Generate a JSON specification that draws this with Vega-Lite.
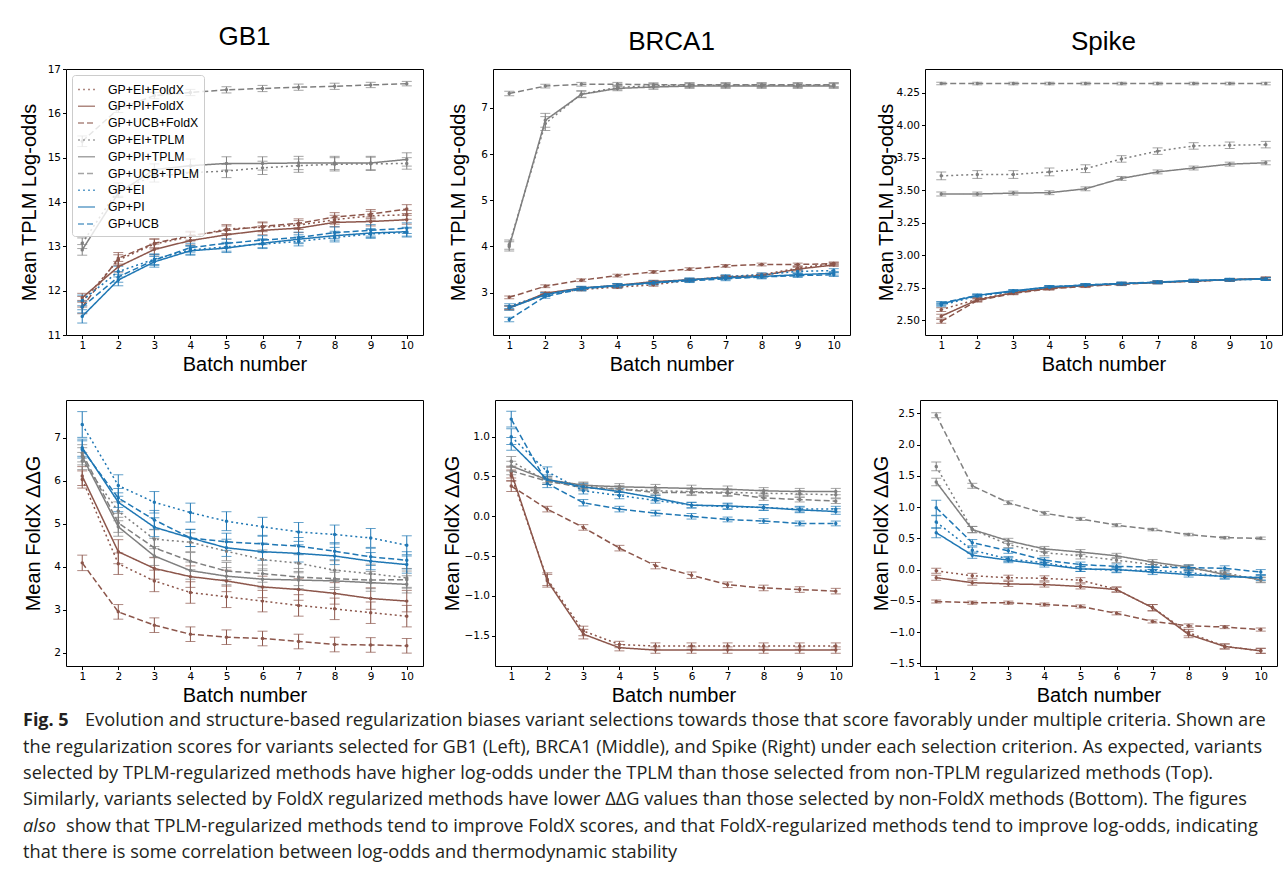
{
"$schema":"https://vega.github.io/schema/vega-lite/v6.json",
"padding":{"left":18,"top":23,"right":0,"bottom":0},
"background":"white",
"config":{
 "view":{"stroke":"#000","strokeWidth":1},
 "axis":{"domain":false,"grid":false,"tickColor":"#000","tickSize":3.5,"labelFont":"DejaVu Sans","labelFontSize":10.5,"labelColor":"#000","labelPadding":2,"titleFont":"Liberation Sans","titleFontSize":20,"titleFontWeight":"normal","titleColor":"#000"},
 "axisX":{"titlePadding":3},
 "title":{"font":"Liberation Sans","fontSize":26,"fontWeight":"normal","color":"#000","offset":14}
},
"datasets":{
"pts":[
{"p":"GT","s":"GP+EI+FoldX","b":1,"v":11.75,"e":0.12},{"p":"GT","s":"GP+EI+FoldX","b":2,"v":12.69,"e":0.12},{"p":"GT","s":"GP+EI+FoldX","b":3,"v":13.05,"e":0.11},{"p":"GT","s":"GP+EI+FoldX","b":4,"v":13.22,"e":0.1},{"p":"GT","s":"GP+EI+FoldX","b":5,"v":13.39,"e":0.1},{"p":"GT","s":"GP+EI+FoldX","b":6,"v":13.43,"e":0.1},{"p":"GT","s":"GP+EI+FoldX","b":7,"v":13.48,"e":0.1},{"p":"GT","s":"GP+EI+FoldX","b":8,"v":13.6,"e":0.1},{"p":"GT","s":"GP+EI+FoldX","b":9,"v":13.69,"e":0.1},{"p":"GT","s":"GP+EI+FoldX","b":10,"v":13.71,"e":0.1},
{"p":"GT","s":"GP+PI+FoldX","b":1,"v":11.84,"e":0.1},{"p":"GT","s":"GP+PI+FoldX","b":2,"v":12.54,"e":0.12},{"p":"GT","s":"GP+PI+FoldX","b":3,"v":12.93,"e":0.12},{"p":"GT","s":"GP+PI+FoldX","b":4,"v":13.13,"e":0.1},{"p":"GT","s":"GP+PI+FoldX","b":5,"v":13.26,"e":0.1},{"p":"GT","s":"GP+PI+FoldX","b":6,"v":13.36,"e":0.1},{"p":"GT","s":"GP+PI+FoldX","b":7,"v":13.41,"e":0.1},{"p":"GT","s":"GP+PI+FoldX","b":8,"v":13.54,"e":0.1},{"p":"GT","s":"GP+PI+FoldX","b":9,"v":13.56,"e":0.1},{"p":"GT","s":"GP+PI+FoldX","b":10,"v":13.6,"e":0.1},
{"p":"GT","s":"GP+UCB+FoldX","b":1,"v":11.63,"e":0.15},{"p":"GT","s":"GP+UCB+FoldX","b":2,"v":12.73,"e":0.13},{"p":"GT","s":"GP+UCB+FoldX","b":3,"v":13.07,"e":0.1},{"p":"GT","s":"GP+UCB+FoldX","b":4,"v":13.24,"e":0.1},{"p":"GT","s":"GP+UCB+FoldX","b":5,"v":13.36,"e":0.1},{"p":"GT","s":"GP+UCB+FoldX","b":6,"v":13.45,"e":0.1},{"p":"GT","s":"GP+UCB+FoldX","b":7,"v":13.52,"e":0.1},{"p":"GT","s":"GP+UCB+FoldX","b":8,"v":13.66,"e":0.1},{"p":"GT","s":"GP+UCB+FoldX","b":9,"v":13.73,"e":0.1},{"p":"GT","s":"GP+UCB+FoldX","b":10,"v":13.84,"e":0.1},
{"p":"GT","s":"GP+EI+TPLM","b":1,"v":13.07,"e":0.12},{"p":"GT","s":"GP+EI+TPLM","b":2,"v":14.28,"e":0.15},{"p":"GT","s":"GP+EI+TPLM","b":3,"v":14.58,"e":0.13},{"p":"GT","s":"GP+EI+TPLM","b":4,"v":14.66,"e":0.15},{"p":"GT","s":"GP+EI+TPLM","b":5,"v":14.7,"e":0.15},{"p":"GT","s":"GP+EI+TPLM","b":6,"v":14.77,"e":0.15},{"p":"GT","s":"GP+EI+TPLM","b":7,"v":14.82,"e":0.15},{"p":"GT","s":"GP+EI+TPLM","b":8,"v":14.85,"e":0.15},{"p":"GT","s":"GP+EI+TPLM","b":9,"v":14.86,"e":0.15},{"p":"GT","s":"GP+EI+TPLM","b":10,"v":14.87,"e":0.13},
{"p":"GT","s":"GP+PI+TPLM","b":1,"v":12.92,"e":0.12},{"p":"GT","s":"GP+PI+TPLM","b":2,"v":14.2,"e":0.1},{"p":"GT","s":"GP+PI+TPLM","b":3,"v":14.73,"e":0.13},{"p":"GT","s":"GP+PI+TPLM","b":4,"v":14.82,"e":0.15},{"p":"GT","s":"GP+PI+TPLM","b":5,"v":14.87,"e":0.15},{"p":"GT","s":"GP+PI+TPLM","b":6,"v":14.87,"e":0.15},{"p":"GT","s":"GP+PI+TPLM","b":7,"v":14.88,"e":0.15},{"p":"GT","s":"GP+PI+TPLM","b":8,"v":14.88,"e":0.15},{"p":"GT","s":"GP+PI+TPLM","b":9,"v":14.88,"e":0.15},{"p":"GT","s":"GP+PI+TPLM","b":10,"v":14.96,"e":0.15},
{"p":"GT","s":"GP+UCB+TPLM","b":1,"v":15.37,"e":0.12},{"p":"GT","s":"GP+UCB+TPLM","b":2,"v":16.1,"e":0.08},{"p":"GT","s":"GP+UCB+TPLM","b":3,"v":16.4,"e":0.07},{"p":"GT","s":"GP+UCB+TPLM","b":4,"v":16.47,"e":0.07},{"p":"GT","s":"GP+UCB+TPLM","b":5,"v":16.53,"e":0.07},{"p":"GT","s":"GP+UCB+TPLM","b":6,"v":16.56,"e":0.07},{"p":"GT","s":"GP+UCB+TPLM","b":7,"v":16.59,"e":0.07},{"p":"GT","s":"GP+UCB+TPLM","b":8,"v":16.61,"e":0.07},{"p":"GT","s":"GP+UCB+TPLM","b":9,"v":16.64,"e":0.06},{"p":"GT","s":"GP+UCB+TPLM","b":10,"v":16.67,"e":0.05},
{"p":"GT","s":"GP+EI","b":1,"v":11.78,"e":0.12},{"p":"GT","s":"GP+EI","b":2,"v":12.43,"e":0.12},{"p":"GT","s":"GP+EI","b":3,"v":12.71,"e":0.12},{"p":"GT","s":"GP+EI","b":4,"v":12.92,"e":0.1},{"p":"GT","s":"GP+EI","b":5,"v":12.99,"e":0.1},{"p":"GT","s":"GP+EI","b":6,"v":13.05,"e":0.1},{"p":"GT","s":"GP+EI","b":7,"v":13.11,"e":0.1},{"p":"GT","s":"GP+EI","b":8,"v":13.2,"e":0.1},{"p":"GT","s":"GP+EI","b":9,"v":13.28,"e":0.1},{"p":"GT","s":"GP+EI","b":10,"v":13.31,"e":0.1},
{"p":"GT","s":"GP+PI","b":1,"v":11.42,"e":0.15},{"p":"GT","s":"GP+PI","b":2,"v":12.24,"e":0.13},{"p":"GT","s":"GP+PI","b":3,"v":12.65,"e":0.12},{"p":"GT","s":"GP+PI","b":4,"v":12.9,"e":0.1},{"p":"GT","s":"GP+PI","b":5,"v":12.96,"e":0.1},{"p":"GT","s":"GP+PI","b":6,"v":13.07,"e":0.1},{"p":"GT","s":"GP+PI","b":7,"v":13.16,"e":0.1},{"p":"GT","s":"GP+PI","b":8,"v":13.24,"e":0.1},{"p":"GT","s":"GP+PI","b":9,"v":13.3,"e":0.1},{"p":"GT","s":"GP+PI","b":10,"v":13.33,"e":0.1},
{"p":"GT","s":"GP+UCB","b":1,"v":11.63,"e":0.13},{"p":"GT","s":"GP+UCB","b":2,"v":12.31,"e":0.12},{"p":"GT","s":"GP+UCB","b":3,"v":12.69,"e":0.12},{"p":"GT","s":"GP+UCB","b":4,"v":12.97,"e":0.1},{"p":"GT","s":"GP+UCB","b":5,"v":13.07,"e":0.1},{"p":"GT","s":"GP+UCB","b":6,"v":13.14,"e":0.1},{"p":"GT","s":"GP+UCB","b":7,"v":13.2,"e":0.12},{"p":"GT","s":"GP+UCB","b":8,"v":13.31,"e":0.13},{"p":"GT","s":"GP+UCB","b":9,"v":13.36,"e":0.13},{"p":"GT","s":"GP+UCB","b":10,"v":13.41,"e":0.12},

{"p":"BT","s":"GP+EI+FoldX","b":1,"v":2.67,"e":0.04},{"p":"BT","s":"GP+EI+FoldX","b":2,"v":2.96,"e":0.03},{"p":"BT","s":"GP+EI+FoldX","b":3,"v":3.07,"e":0.03},{"p":"BT","s":"GP+EI+FoldX","b":4,"v":3.12,"e":0.03},{"p":"BT","s":"GP+EI+FoldX","b":5,"v":3.17,"e":0.03},{"p":"BT","s":"GP+EI+FoldX","b":6,"v":3.27,"e":0.03},{"p":"BT","s":"GP+EI+FoldX","b":7,"v":3.34,"e":0.03},{"p":"BT","s":"GP+EI+FoldX","b":8,"v":3.39,"e":0.03},{"p":"BT","s":"GP+EI+FoldX","b":9,"v":3.53,"e":0.04},{"p":"BT","s":"GP+EI+FoldX","b":10,"v":3.63,"e":0.03},
{"p":"BT","s":"GP+PI+FoldX","b":1,"v":2.67,"e":0.04},{"p":"BT","s":"GP+PI+FoldX","b":2,"v":2.99,"e":0.03},{"p":"BT","s":"GP+PI+FoldX","b":3,"v":3.1,"e":0.03},{"p":"BT","s":"GP+PI+FoldX","b":4,"v":3.16,"e":0.03},{"p":"BT","s":"GP+PI+FoldX","b":5,"v":3.24,"e":0.03},{"p":"BT","s":"GP+PI+FoldX","b":6,"v":3.28,"e":0.03},{"p":"BT","s":"GP+PI+FoldX","b":7,"v":3.34,"e":0.03},{"p":"BT","s":"GP+PI+FoldX","b":8,"v":3.37,"e":0.03},{"p":"BT","s":"GP+PI+FoldX","b":9,"v":3.51,"e":0.04},{"p":"BT","s":"GP+PI+FoldX","b":10,"v":3.6,"e":0.03},
{"p":"BT","s":"GP+UCB+FoldX","b":1,"v":2.9,"e":0.03},{"p":"BT","s":"GP+UCB+FoldX","b":2,"v":3.14,"e":0.03},{"p":"BT","s":"GP+UCB+FoldX","b":3,"v":3.27,"e":0.03},{"p":"BT","s":"GP+UCB+FoldX","b":4,"v":3.37,"e":0.03},{"p":"BT","s":"GP+UCB+FoldX","b":5,"v":3.45,"e":0.03},{"p":"BT","s":"GP+UCB+FoldX","b":6,"v":3.51,"e":0.03},{"p":"BT","s":"GP+UCB+FoldX","b":7,"v":3.58,"e":0.03},{"p":"BT","s":"GP+UCB+FoldX","b":8,"v":3.61,"e":0.03},{"p":"BT","s":"GP+UCB+FoldX","b":9,"v":3.61,"e":0.03},{"p":"BT","s":"GP+UCB+FoldX","b":10,"v":3.63,"e":0.03},
{"p":"BT","s":"GP+EI+TPLM","b":1,"v":4.04,"e":0.1},{"p":"BT","s":"GP+EI+TPLM","b":2,"v":6.66,"e":0.15},{"p":"BT","s":"GP+EI+TPLM","b":3,"v":7.3,"e":0.07},{"p":"BT","s":"GP+EI+TPLM","b":4,"v":7.44,"e":0.05},{"p":"BT","s":"GP+EI+TPLM","b":5,"v":7.48,"e":0.05},{"p":"BT","s":"GP+EI+TPLM","b":6,"v":7.49,"e":0.05},{"p":"BT","s":"GP+EI+TPLM","b":7,"v":7.49,"e":0.05},{"p":"BT","s":"GP+EI+TPLM","b":8,"v":7.49,"e":0.05},{"p":"BT","s":"GP+EI+TPLM","b":9,"v":7.49,"e":0.05},{"p":"BT","s":"GP+EI+TPLM","b":10,"v":7.49,"e":0.05},
{"p":"BT","s":"GP+PI+TPLM","b":1,"v":4.0,"e":0.1},{"p":"BT","s":"GP+PI+TPLM","b":2,"v":6.73,"e":0.15},{"p":"BT","s":"GP+PI+TPLM","b":3,"v":7.29,"e":0.07},{"p":"BT","s":"GP+PI+TPLM","b":4,"v":7.42,"e":0.05},{"p":"BT","s":"GP+PI+TPLM","b":5,"v":7.45,"e":0.05},{"p":"BT","s":"GP+PI+TPLM","b":6,"v":7.47,"e":0.05},{"p":"BT","s":"GP+PI+TPLM","b":7,"v":7.47,"e":0.05},{"p":"BT","s":"GP+PI+TPLM","b":8,"v":7.47,"e":0.05},{"p":"BT","s":"GP+PI+TPLM","b":9,"v":7.47,"e":0.05},{"p":"BT","s":"GP+PI+TPLM","b":10,"v":7.47,"e":0.05},
{"p":"BT","s":"GP+UCB+TPLM","b":1,"v":7.31,"e":0.05},{"p":"BT","s":"GP+UCB+TPLM","b":2,"v":7.47,"e":0.04},{"p":"BT","s":"GP+UCB+TPLM","b":3,"v":7.51,"e":0.04},{"p":"BT","s":"GP+UCB+TPLM","b":4,"v":7.51,"e":0.04},{"p":"BT","s":"GP+UCB+TPLM","b":5,"v":7.5,"e":0.04},{"p":"BT","s":"GP+UCB+TPLM","b":6,"v":7.5,"e":0.04},{"p":"BT","s":"GP+UCB+TPLM","b":7,"v":7.5,"e":0.04},{"p":"BT","s":"GP+UCB+TPLM","b":8,"v":7.5,"e":0.04},{"p":"BT","s":"GP+UCB+TPLM","b":9,"v":7.5,"e":0.04},{"p":"BT","s":"GP+UCB+TPLM","b":10,"v":7.5,"e":0.04},
{"p":"BT","s":"GP+EI","b":1,"v":2.71,"e":0.05},{"p":"BT","s":"GP+EI","b":2,"v":2.96,"e":0.04},{"p":"BT","s":"GP+EI","b":3,"v":3.09,"e":0.04},{"p":"BT","s":"GP+EI","b":4,"v":3.15,"e":0.04},{"p":"BT","s":"GP+EI","b":5,"v":3.21,"e":0.04},{"p":"BT","s":"GP+EI","b":6,"v":3.27,"e":0.04},{"p":"BT","s":"GP+EI","b":7,"v":3.35,"e":0.04},{"p":"BT","s":"GP+EI","b":8,"v":3.39,"e":0.04},{"p":"BT","s":"GP+EI","b":9,"v":3.46,"e":0.04},{"p":"BT","s":"GP+EI","b":10,"v":3.48,"e":0.04},
{"p":"BT","s":"GP+PI","b":1,"v":2.67,"e":0.05},{"p":"BT","s":"GP+PI","b":2,"v":2.96,"e":0.04},{"p":"BT","s":"GP+PI","b":3,"v":3.1,"e":0.04},{"p":"BT","s":"GP+PI","b":4,"v":3.16,"e":0.04},{"p":"BT","s":"GP+PI","b":5,"v":3.22,"e":0.04},{"p":"BT","s":"GP+PI","b":6,"v":3.28,"e":0.04},{"p":"BT","s":"GP+PI","b":7,"v":3.32,"e":0.04},{"p":"BT","s":"GP+PI","b":8,"v":3.35,"e":0.04},{"p":"BT","s":"GP+PI","b":9,"v":3.39,"e":0.04},{"p":"BT","s":"GP+PI","b":10,"v":3.42,"e":0.04},
{"p":"BT","s":"GP+UCB","b":1,"v":2.42,"e":0.05},{"p":"BT","s":"GP+UCB","b":2,"v":2.92,"e":0.04},{"p":"BT","s":"GP+UCB","b":3,"v":3.08,"e":0.04},{"p":"BT","s":"GP+UCB","b":4,"v":3.15,"e":0.04},{"p":"BT","s":"GP+UCB","b":5,"v":3.21,"e":0.04},{"p":"BT","s":"GP+UCB","b":6,"v":3.26,"e":0.04},{"p":"BT","s":"GP+UCB","b":7,"v":3.3,"e":0.04},{"p":"BT","s":"GP+UCB","b":8,"v":3.34,"e":0.04},{"p":"BT","s":"GP+UCB","b":9,"v":3.37,"e":0.04},{"p":"BT","s":"GP+UCB","b":10,"v":3.39,"e":0.04},

{"p":"ST","s":"GP+EI+FoldX","b":1,"v":2.58,"e":0.015},{"p":"ST","s":"GP+EI+FoldX","b":2,"v":2.66,"e":0.012},{"p":"ST","s":"GP+EI+FoldX","b":3,"v":2.71,"e":0.01},{"p":"ST","s":"GP+EI+FoldX","b":4,"v":2.745,"e":0.01},{"p":"ST","s":"GP+EI+FoldX","b":5,"v":2.765,"e":0.01},{"p":"ST","s":"GP+EI+FoldX","b":6,"v":2.78,"e":0.01},{"p":"ST","s":"GP+EI+FoldX","b":7,"v":2.79,"e":0.01},{"p":"ST","s":"GP+EI+FoldX","b":8,"v":2.8,"e":0.01},{"p":"ST","s":"GP+EI+FoldX","b":9,"v":2.81,"e":0.01},{"p":"ST","s":"GP+EI+FoldX","b":10,"v":2.82,"e":0.01},
{"p":"ST","s":"GP+PI+FoldX","b":1,"v":2.53,"e":0.015},{"p":"ST","s":"GP+PI+FoldX","b":2,"v":2.655,"e":0.012},{"p":"ST","s":"GP+PI+FoldX","b":3,"v":2.71,"e":0.01},{"p":"ST","s":"GP+PI+FoldX","b":4,"v":2.745,"e":0.01},{"p":"ST","s":"GP+PI+FoldX","b":5,"v":2.765,"e":0.01},{"p":"ST","s":"GP+PI+FoldX","b":6,"v":2.78,"e":0.01},{"p":"ST","s":"GP+PI+FoldX","b":7,"v":2.79,"e":0.01},{"p":"ST","s":"GP+PI+FoldX","b":8,"v":2.8,"e":0.01},{"p":"ST","s":"GP+PI+FoldX","b":9,"v":2.81,"e":0.01},{"p":"ST","s":"GP+PI+FoldX","b":10,"v":2.82,"e":0.01},
{"p":"ST","s":"GP+UCB+FoldX","b":1,"v":2.49,"e":0.015},{"p":"ST","s":"GP+UCB+FoldX","b":2,"v":2.65,"e":0.012},{"p":"ST","s":"GP+UCB+FoldX","b":3,"v":2.705,"e":0.01},{"p":"ST","s":"GP+UCB+FoldX","b":4,"v":2.74,"e":0.01},{"p":"ST","s":"GP+UCB+FoldX","b":5,"v":2.76,"e":0.01},{"p":"ST","s":"GP+UCB+FoldX","b":6,"v":2.775,"e":0.01},{"p":"ST","s":"GP+UCB+FoldX","b":7,"v":2.79,"e":0.01},{"p":"ST","s":"GP+UCB+FoldX","b":8,"v":2.8,"e":0.01},{"p":"ST","s":"GP+UCB+FoldX","b":9,"v":2.81,"e":0.01},{"p":"ST","s":"GP+UCB+FoldX","b":10,"v":2.82,"e":0.01},
{"p":"ST","s":"GP+EI+TPLM","b":1,"v":3.61,"e":0.03},{"p":"ST","s":"GP+EI+TPLM","b":2,"v":3.62,"e":0.03},{"p":"ST","s":"GP+EI+TPLM","b":3,"v":3.62,"e":0.03},{"p":"ST","s":"GP+EI+TPLM","b":4,"v":3.64,"e":0.03},{"p":"ST","s":"GP+EI+TPLM","b":5,"v":3.665,"e":0.03},{"p":"ST","s":"GP+EI+TPLM","b":6,"v":3.74,"e":0.025},{"p":"ST","s":"GP+EI+TPLM","b":7,"v":3.8,"e":0.025},{"p":"ST","s":"GP+EI+TPLM","b":8,"v":3.84,"e":0.025},{"p":"ST","s":"GP+EI+TPLM","b":9,"v":3.845,"e":0.025},{"p":"ST","s":"GP+EI+TPLM","b":10,"v":3.85,"e":0.025},
{"p":"ST","s":"GP+PI+TPLM","b":1,"v":3.47,"e":0.015},{"p":"ST","s":"GP+PI+TPLM","b":2,"v":3.47,"e":0.015},{"p":"ST","s":"GP+PI+TPLM","b":3,"v":3.477,"e":0.015},{"p":"ST","s":"GP+PI+TPLM","b":4,"v":3.48,"e":0.015},{"p":"ST","s":"GP+PI+TPLM","b":5,"v":3.51,"e":0.015},{"p":"ST","s":"GP+PI+TPLM","b":6,"v":3.59,"e":0.015},{"p":"ST","s":"GP+PI+TPLM","b":7,"v":3.64,"e":0.015},{"p":"ST","s":"GP+PI+TPLM","b":8,"v":3.67,"e":0.015},{"p":"ST","s":"GP+PI+TPLM","b":9,"v":3.7,"e":0.015},{"p":"ST","s":"GP+PI+TPLM","b":10,"v":3.71,"e":0.015},
{"p":"ST","s":"GP+UCB+TPLM","b":1,"v":4.32,"e":0.01},{"p":"ST","s":"GP+UCB+TPLM","b":2,"v":4.32,"e":0.01},{"p":"ST","s":"GP+UCB+TPLM","b":3,"v":4.32,"e":0.01},{"p":"ST","s":"GP+UCB+TPLM","b":4,"v":4.32,"e":0.01},{"p":"ST","s":"GP+UCB+TPLM","b":5,"v":4.32,"e":0.01},{"p":"ST","s":"GP+UCB+TPLM","b":6,"v":4.32,"e":0.01},{"p":"ST","s":"GP+UCB+TPLM","b":7,"v":4.32,"e":0.01},{"p":"ST","s":"GP+UCB+TPLM","b":8,"v":4.32,"e":0.01},{"p":"ST","s":"GP+UCB+TPLM","b":9,"v":4.32,"e":0.01},{"p":"ST","s":"GP+UCB+TPLM","b":10,"v":4.32,"e":0.01},
{"p":"ST","s":"GP+EI","b":1,"v":2.615,"e":0.012},{"p":"ST","s":"GP+EI","b":2,"v":2.685,"e":0.01},{"p":"ST","s":"GP+EI","b":3,"v":2.72,"e":0.01},{"p":"ST","s":"GP+EI","b":4,"v":2.755,"e":0.01},{"p":"ST","s":"GP+EI","b":5,"v":2.77,"e":0.01},{"p":"ST","s":"GP+EI","b":6,"v":2.78,"e":0.01},{"p":"ST","s":"GP+EI","b":7,"v":2.79,"e":0.01},{"p":"ST","s":"GP+EI","b":8,"v":2.8,"e":0.01},{"p":"ST","s":"GP+EI","b":9,"v":2.81,"e":0.01},{"p":"ST","s":"GP+EI","b":10,"v":2.815,"e":0.01},
{"p":"ST","s":"GP+PI","b":1,"v":2.625,"e":0.012},{"p":"ST","s":"GP+PI","b":2,"v":2.69,"e":0.01},{"p":"ST","s":"GP+PI","b":3,"v":2.725,"e":0.01},{"p":"ST","s":"GP+PI","b":4,"v":2.755,"e":0.01},{"p":"ST","s":"GP+PI","b":5,"v":2.77,"e":0.01},{"p":"ST","s":"GP+PI","b":6,"v":2.78,"e":0.01},{"p":"ST","s":"GP+PI","b":7,"v":2.79,"e":0.01},{"p":"ST","s":"GP+PI","b":8,"v":2.805,"e":0.01},{"p":"ST","s":"GP+PI","b":9,"v":2.81,"e":0.01},{"p":"ST","s":"GP+PI","b":10,"v":2.815,"e":0.01},
{"p":"ST","s":"GP+UCB","b":1,"v":2.63,"e":0.012},{"p":"ST","s":"GP+UCB","b":2,"v":2.69,"e":0.01},{"p":"ST","s":"GP+UCB","b":3,"v":2.72,"e":0.01},{"p":"ST","s":"GP+UCB","b":4,"v":2.755,"e":0.01},{"p":"ST","s":"GP+UCB","b":5,"v":2.768,"e":0.01},{"p":"ST","s":"GP+UCB","b":6,"v":2.782,"e":0.01},{"p":"ST","s":"GP+UCB","b":7,"v":2.792,"e":0.01},{"p":"ST","s":"GP+UCB","b":8,"v":2.803,"e":0.01},{"p":"ST","s":"GP+UCB","b":9,"v":2.812,"e":0.01},{"p":"ST","s":"GP+UCB","b":10,"v":2.818,"e":0.01},

{"p":"GB","s":"GP+EI+FoldX","b":1,"v":6.03,"e":0.2},{"p":"GB","s":"GP+EI+FoldX","b":2,"v":4.07,"e":0.25},{"p":"GB","s":"GP+EI+FoldX","b":3,"v":3.67,"e":0.25},{"p":"GB","s":"GP+EI+FoldX","b":4,"v":3.4,"e":0.25},{"p":"GB","s":"GP+EI+FoldX","b":5,"v":3.3,"e":0.25},{"p":"GB","s":"GP+EI+FoldX","b":6,"v":3.2,"e":0.25},{"p":"GB","s":"GP+EI+FoldX","b":7,"v":3.1,"e":0.25},{"p":"GB","s":"GP+EI+FoldX","b":8,"v":3.02,"e":0.25},{"p":"GB","s":"GP+EI+FoldX","b":9,"v":2.93,"e":0.25},{"p":"GB","s":"GP+EI+FoldX","b":10,"v":2.85,"e":0.25},
{"p":"GB","s":"GP+PI+FoldX","b":1,"v":6.11,"e":0.22},{"p":"GB","s":"GP+PI+FoldX","b":2,"v":4.35,"e":0.28},{"p":"GB","s":"GP+PI+FoldX","b":3,"v":3.96,"e":0.25},{"p":"GB","s":"GP+PI+FoldX","b":4,"v":3.77,"e":0.25},{"p":"GB","s":"GP+PI+FoldX","b":5,"v":3.67,"e":0.25},{"p":"GB","s":"GP+PI+FoldX","b":6,"v":3.53,"e":0.25},{"p":"GB","s":"GP+PI+FoldX","b":7,"v":3.47,"e":0.25},{"p":"GB","s":"GP+PI+FoldX","b":8,"v":3.38,"e":0.25},{"p":"GB","s":"GP+PI+FoldX","b":9,"v":3.26,"e":0.25},{"p":"GB","s":"GP+PI+FoldX","b":10,"v":3.2,"e":0.25},
{"p":"GB","s":"GP+UCB+FoldX","b":1,"v":4.09,"e":0.18},{"p":"GB","s":"GP+UCB+FoldX","b":2,"v":2.95,"e":0.17},{"p":"GB","s":"GP+UCB+FoldX","b":3,"v":2.64,"e":0.17},{"p":"GB","s":"GP+UCB+FoldX","b":4,"v":2.43,"e":0.17},{"p":"GB","s":"GP+UCB+FoldX","b":5,"v":2.36,"e":0.17},{"p":"GB","s":"GP+UCB+FoldX","b":6,"v":2.33,"e":0.17},{"p":"GB","s":"GP+UCB+FoldX","b":7,"v":2.26,"e":0.17},{"p":"GB","s":"GP+UCB+FoldX","b":8,"v":2.19,"e":0.17},{"p":"GB","s":"GP+UCB+FoldX","b":9,"v":2.18,"e":0.17},{"p":"GB","s":"GP+UCB+FoldX","b":10,"v":2.16,"e":0.17},
{"p":"GB","s":"GP+EI+TPLM","b":1,"v":6.46,"e":0.2},{"p":"GB","s":"GP+EI+TPLM","b":2,"v":5.29,"e":0.22},{"p":"GB","s":"GP+EI+TPLM","b":3,"v":4.64,"e":0.22},{"p":"GB","s":"GP+EI+TPLM","b":4,"v":4.57,"e":0.22},{"p":"GB","s":"GP+EI+TPLM","b":5,"v":4.36,"e":0.22},{"p":"GB","s":"GP+EI+TPLM","b":6,"v":4.17,"e":0.22},{"p":"GB","s":"GP+EI+TPLM","b":7,"v":4.08,"e":0.22},{"p":"GB","s":"GP+EI+TPLM","b":8,"v":3.92,"e":0.22},{"p":"GB","s":"GP+EI+TPLM","b":9,"v":3.84,"e":0.22},{"p":"GB","s":"GP+EI+TPLM","b":10,"v":3.74,"e":0.22},
{"p":"GB","s":"GP+PI+TPLM","b":1,"v":6.57,"e":0.2},{"p":"GB","s":"GP+PI+TPLM","b":2,"v":4.93,"e":0.22},{"p":"GB","s":"GP+PI+TPLM","b":3,"v":4.25,"e":0.22},{"p":"GB","s":"GP+PI+TPLM","b":4,"v":3.91,"e":0.2},{"p":"GB","s":"GP+PI+TPLM","b":5,"v":3.78,"e":0.2},{"p":"GB","s":"GP+PI+TPLM","b":6,"v":3.71,"e":0.2},{"p":"GB","s":"GP+PI+TPLM","b":7,"v":3.69,"e":0.2},{"p":"GB","s":"GP+PI+TPLM","b":8,"v":3.67,"e":0.2},{"p":"GB","s":"GP+PI+TPLM","b":9,"v":3.63,"e":0.2},{"p":"GB","s":"GP+PI+TPLM","b":10,"v":3.59,"e":0.2},
{"p":"GB","s":"GP+UCB+TPLM","b":1,"v":6.64,"e":0.2},{"p":"GB","s":"GP+UCB+TPLM","b":2,"v":5.02,"e":0.22},{"p":"GB","s":"GP+UCB+TPLM","b":3,"v":4.44,"e":0.22},{"p":"GB","s":"GP+UCB+TPLM","b":4,"v":4.13,"e":0.2},{"p":"GB","s":"GP+UCB+TPLM","b":5,"v":3.9,"e":0.2},{"p":"GB","s":"GP+UCB+TPLM","b":6,"v":3.84,"e":0.2},{"p":"GB","s":"GP+UCB+TPLM","b":7,"v":3.76,"e":0.2},{"p":"GB","s":"GP+UCB+TPLM","b":8,"v":3.72,"e":0.2},{"p":"GB","s":"GP+UCB+TPLM","b":9,"v":3.69,"e":0.2},{"p":"GB","s":"GP+UCB+TPLM","b":10,"v":3.7,"e":0.2},
{"p":"GB","s":"GP+EI","b":1,"v":7.31,"e":0.3},{"p":"GB","s":"GP+EI","b":2,"v":5.89,"e":0.25},{"p":"GB","s":"GP+EI","b":3,"v":5.5,"e":0.25},{"p":"GB","s":"GP+EI","b":4,"v":5.26,"e":0.22},{"p":"GB","s":"GP+EI","b":5,"v":5.06,"e":0.22},{"p":"GB","s":"GP+EI","b":6,"v":4.93,"e":0.22},{"p":"GB","s":"GP+EI","b":7,"v":4.81,"e":0.22},{"p":"GB","s":"GP+EI","b":8,"v":4.75,"e":0.22},{"p":"GB","s":"GP+EI","b":9,"v":4.67,"e":0.22},{"p":"GB","s":"GP+EI","b":10,"v":4.5,"e":0.22},
{"p":"GB","s":"GP+PI","b":1,"v":6.77,"e":0.2},{"p":"GB","s":"GP+PI","b":2,"v":5.5,"e":0.22},{"p":"GB","s":"GP+PI","b":3,"v":4.92,"e":0.22},{"p":"GB","s":"GP+PI","b":4,"v":4.67,"e":0.2},{"p":"GB","s":"GP+PI","b":5,"v":4.44,"e":0.2},{"p":"GB","s":"GP+PI","b":6,"v":4.35,"e":0.2},{"p":"GB","s":"GP+PI","b":7,"v":4.31,"e":0.2},{"p":"GB","s":"GP+PI","b":8,"v":4.25,"e":0.2},{"p":"GB","s":"GP+PI","b":9,"v":4.13,"e":0.2},{"p":"GB","s":"GP+PI","b":10,"v":4.05,"e":0.2},
{"p":"GB","s":"GP+UCB","b":1,"v":6.73,"e":0.2},{"p":"GB","s":"GP+UCB","b":2,"v":5.6,"e":0.22},{"p":"GB","s":"GP+UCB","b":3,"v":5.09,"e":0.22},{"p":"GB","s":"GP+UCB","b":4,"v":4.67,"e":0.2},{"p":"GB","s":"GP+UCB","b":5,"v":4.58,"e":0.2},{"p":"GB","s":"GP+UCB","b":6,"v":4.53,"e":0.2},{"p":"GB","s":"GP+UCB","b":7,"v":4.48,"e":0.2},{"p":"GB","s":"GP+UCB","b":8,"v":4.36,"e":0.2},{"p":"GB","s":"GP+UCB","b":9,"v":4.23,"e":0.2},{"p":"GB","s":"GP+UCB","b":10,"v":4.15,"e":0.2},

{"p":"BB","s":"GP+EI+FoldX","b":1,"v":0.51,"e":0.07},{"p":"BB","s":"GP+EI+FoldX","b":2,"v":-0.79,"e":0.08},{"p":"BB","s":"GP+EI+FoldX","b":3,"v":-1.44,"e":0.06},{"p":"BB","s":"GP+EI+FoldX","b":4,"v":-1.61,"e":0.04},{"p":"BB","s":"GP+EI+FoldX","b":5,"v":-1.63,"e":0.04},{"p":"BB","s":"GP+EI+FoldX","b":6,"v":-1.63,"e":0.04},{"p":"BB","s":"GP+EI+FoldX","b":7,"v":-1.63,"e":0.04},{"p":"BB","s":"GP+EI+FoldX","b":8,"v":-1.63,"e":0.04},{"p":"BB","s":"GP+EI+FoldX","b":9,"v":-1.63,"e":0.04},{"p":"BB","s":"GP+EI+FoldX","b":10,"v":-1.63,"e":0.04},
{"p":"BB","s":"GP+PI+FoldX","b":1,"v":0.55,"e":0.07},{"p":"BB","s":"GP+PI+FoldX","b":2,"v":-0.81,"e":0.08},{"p":"BB","s":"GP+PI+FoldX","b":3,"v":-1.48,"e":0.06},{"p":"BB","s":"GP+PI+FoldX","b":4,"v":-1.65,"e":0.04},{"p":"BB","s":"GP+PI+FoldX","b":5,"v":-1.68,"e":0.04},{"p":"BB","s":"GP+PI+FoldX","b":6,"v":-1.68,"e":0.04},{"p":"BB","s":"GP+PI+FoldX","b":7,"v":-1.68,"e":0.04},{"p":"BB","s":"GP+PI+FoldX","b":8,"v":-1.68,"e":0.04},{"p":"BB","s":"GP+PI+FoldX","b":9,"v":-1.68,"e":0.04},{"p":"BB","s":"GP+PI+FoldX","b":10,"v":-1.68,"e":0.04},
{"p":"BB","s":"GP+UCB+FoldX","b":1,"v":0.38,"e":0.07},{"p":"BB","s":"GP+UCB+FoldX","b":2,"v":0.09,"e":0.035},{"p":"BB","s":"GP+UCB+FoldX","b":3,"v":-0.14,"e":0.035},{"p":"BB","s":"GP+UCB+FoldX","b":4,"v":-0.4,"e":0.035},{"p":"BB","s":"GP+UCB+FoldX","b":5,"v":-0.62,"e":0.04},{"p":"BB","s":"GP+UCB+FoldX","b":6,"v":-0.74,"e":0.04},{"p":"BB","s":"GP+UCB+FoldX","b":7,"v":-0.86,"e":0.035},{"p":"BB","s":"GP+UCB+FoldX","b":8,"v":-0.9,"e":0.035},{"p":"BB","s":"GP+UCB+FoldX","b":9,"v":-0.92,"e":0.035},{"p":"BB","s":"GP+UCB+FoldX","b":10,"v":-0.94,"e":0.035},
{"p":"BB","s":"GP+EI+TPLM","b":1,"v":0.69,"e":0.06},{"p":"BB","s":"GP+EI+TPLM","b":2,"v":0.44,"e":0.04},{"p":"BB","s":"GP+EI+TPLM","b":3,"v":0.38,"e":0.04},{"p":"BB","s":"GP+EI+TPLM","b":4,"v":0.34,"e":0.04},{"p":"BB","s":"GP+EI+TPLM","b":5,"v":0.32,"e":0.04},{"p":"BB","s":"GP+EI+TPLM","b":6,"v":0.31,"e":0.04},{"p":"BB","s":"GP+EI+TPLM","b":7,"v":0.3,"e":0.04},{"p":"BB","s":"GP+EI+TPLM","b":8,"v":0.29,"e":0.04},{"p":"BB","s":"GP+EI+TPLM","b":9,"v":0.28,"e":0.04},{"p":"BB","s":"GP+EI+TPLM","b":10,"v":0.27,"e":0.04},
{"p":"BB","s":"GP+PI+TPLM","b":1,"v":0.63,"e":0.06},{"p":"BB","s":"GP+PI+TPLM","b":2,"v":0.46,"e":0.04},{"p":"BB","s":"GP+PI+TPLM","b":3,"v":0.39,"e":0.04},{"p":"BB","s":"GP+PI+TPLM","b":4,"v":0.37,"e":0.04},{"p":"BB","s":"GP+PI+TPLM","b":5,"v":0.36,"e":0.04},{"p":"BB","s":"GP+PI+TPLM","b":6,"v":0.35,"e":0.04},{"p":"BB","s":"GP+PI+TPLM","b":7,"v":0.34,"e":0.04},{"p":"BB","s":"GP+PI+TPLM","b":8,"v":0.32,"e":0.04},{"p":"BB","s":"GP+PI+TPLM","b":9,"v":0.31,"e":0.04},{"p":"BB","s":"GP+PI+TPLM","b":10,"v":0.31,"e":0.04},
{"p":"BB","s":"GP+UCB+TPLM","b":1,"v":0.57,"e":0.05},{"p":"BB","s":"GP+UCB+TPLM","b":2,"v":0.44,"e":0.04},{"p":"BB","s":"GP+UCB+TPLM","b":3,"v":0.36,"e":0.04},{"p":"BB","s":"GP+UCB+TPLM","b":4,"v":0.34,"e":0.04},{"p":"BB","s":"GP+UCB+TPLM","b":5,"v":0.3,"e":0.04},{"p":"BB","s":"GP+UCB+TPLM","b":6,"v":0.3,"e":0.04},{"p":"BB","s":"GP+UCB+TPLM","b":7,"v":0.29,"e":0.04},{"p":"BB","s":"GP+UCB+TPLM","b":8,"v":0.23,"e":0.03},{"p":"BB","s":"GP+UCB+TPLM","b":9,"v":0.21,"e":0.03},{"p":"BB","s":"GP+UCB+TPLM","b":10,"v":0.19,"e":0.03},
{"p":"BB","s":"GP+EI","b":1,"v":1.0,"e":0.1},{"p":"BB","s":"GP+EI","b":2,"v":0.56,"e":0.06},{"p":"BB","s":"GP+EI","b":3,"v":0.32,"e":0.04},{"p":"BB","s":"GP+EI","b":4,"v":0.26,"e":0.04},{"p":"BB","s":"GP+EI","b":5,"v":0.2,"e":0.035},{"p":"BB","s":"GP+EI","b":6,"v":0.14,"e":0.035},{"p":"BB","s":"GP+EI","b":7,"v":0.12,"e":0.035},{"p":"BB","s":"GP+EI","b":8,"v":0.11,"e":0.035},{"p":"BB","s":"GP+EI","b":9,"v":0.09,"e":0.035},{"p":"BB","s":"GP+EI","b":10,"v":0.09,"e":0.035},
{"p":"BB","s":"GP+PI","b":1,"v":0.91,"e":0.08},{"p":"BB","s":"GP+PI","b":2,"v":0.46,"e":0.06},{"p":"BB","s":"GP+PI","b":3,"v":0.37,"e":0.04},{"p":"BB","s":"GP+PI","b":4,"v":0.31,"e":0.04},{"p":"BB","s":"GP+PI","b":5,"v":0.23,"e":0.035},{"p":"BB","s":"GP+PI","b":6,"v":0.14,"e":0.035},{"p":"BB","s":"GP+PI","b":7,"v":0.13,"e":0.035},{"p":"BB","s":"GP+PI","b":8,"v":0.11,"e":0.035},{"p":"BB","s":"GP+PI","b":9,"v":0.08,"e":0.035},{"p":"BB","s":"GP+PI","b":10,"v":0.06,"e":0.035},
{"p":"BB","s":"GP+UCB","b":1,"v":1.22,"e":0.1},{"p":"BB","s":"GP+UCB","b":2,"v":0.41,"e":0.05},{"p":"BB","s":"GP+UCB","b":3,"v":0.17,"e":0.04},{"p":"BB","s":"GP+UCB","b":4,"v":0.09,"e":0.035},{"p":"BB","s":"GP+UCB","b":5,"v":0.04,"e":0.035},{"p":"BB","s":"GP+UCB","b":6,"v":0.0,"e":0.035},{"p":"BB","s":"GP+UCB","b":7,"v":-0.04,"e":0.03},{"p":"BB","s":"GP+UCB","b":8,"v":-0.06,"e":0.03},{"p":"BB","s":"GP+UCB","b":9,"v":-0.09,"e":0.03},{"p":"BB","s":"GP+UCB","b":10,"v":-0.09,"e":0.03},

{"p":"SB","s":"GP+EI+FoldX","b":1,"v":-0.02,"e":0.04},{"p":"SB","s":"GP+EI+FoldX","b":2,"v":-0.1,"e":0.04},{"p":"SB","s":"GP+EI+FoldX","b":3,"v":-0.13,"e":0.04},{"p":"SB","s":"GP+EI+FoldX","b":4,"v":-0.14,"e":0.04},{"p":"SB","s":"GP+EI+FoldX","b":5,"v":-0.17,"e":0.04},{"p":"SB","s":"GP+EI+FoldX","b":6,"v":-0.32,"e":0.04},{"p":"SB","s":"GP+EI+FoldX","b":7,"v":-0.61,"e":0.05},{"p":"SB","s":"GP+EI+FoldX","b":8,"v":-1.01,"e":0.05},{"p":"SB","s":"GP+EI+FoldX","b":9,"v":-1.23,"e":0.04},{"p":"SB","s":"GP+EI+FoldX","b":10,"v":-1.3,"e":0.04},
{"p":"SB","s":"GP+PI+FoldX","b":1,"v":-0.13,"e":0.04},{"p":"SB","s":"GP+PI+FoldX","b":2,"v":-0.21,"e":0.04},{"p":"SB","s":"GP+PI+FoldX","b":3,"v":-0.23,"e":0.04},{"p":"SB","s":"GP+PI+FoldX","b":4,"v":-0.24,"e":0.04},{"p":"SB","s":"GP+PI+FoldX","b":5,"v":-0.27,"e":0.04},{"p":"SB","s":"GP+PI+FoldX","b":6,"v":-0.32,"e":0.04},{"p":"SB","s":"GP+PI+FoldX","b":7,"v":-0.61,"e":0.05},{"p":"SB","s":"GP+PI+FoldX","b":8,"v":-1.04,"e":0.05},{"p":"SB","s":"GP+PI+FoldX","b":9,"v":-1.23,"e":0.04},{"p":"SB","s":"GP+PI+FoldX","b":10,"v":-1.3,"e":0.04},
{"p":"SB","s":"GP+UCB+FoldX","b":1,"v":-0.51,"e":0.025},{"p":"SB","s":"GP+UCB+FoldX","b":2,"v":-0.53,"e":0.025},{"p":"SB","s":"GP+UCB+FoldX","b":3,"v":-0.53,"e":0.025},{"p":"SB","s":"GP+UCB+FoldX","b":4,"v":-0.56,"e":0.025},{"p":"SB","s":"GP+UCB+FoldX","b":5,"v":-0.59,"e":0.025},{"p":"SB","s":"GP+UCB+FoldX","b":6,"v":-0.7,"e":0.025},{"p":"SB","s":"GP+UCB+FoldX","b":7,"v":-0.83,"e":0.025},{"p":"SB","s":"GP+UCB+FoldX","b":8,"v":-0.9,"e":0.03},{"p":"SB","s":"GP+UCB+FoldX","b":9,"v":-0.92,"e":0.025},{"p":"SB","s":"GP+UCB+FoldX","b":10,"v":-0.96,"e":0.025},
{"p":"SB","s":"GP+EI+TPLM","b":1,"v":1.65,"e":0.07},{"p":"SB","s":"GP+EI+TPLM","b":2,"v":0.64,"e":0.05},{"p":"SB","s":"GP+EI+TPLM","b":3,"v":0.4,"e":0.05},{"p":"SB","s":"GP+EI+TPLM","b":4,"v":0.27,"e":0.05},{"p":"SB","s":"GP+EI+TPLM","b":5,"v":0.22,"e":0.05},{"p":"SB","s":"GP+EI+TPLM","b":6,"v":0.15,"e":0.04},{"p":"SB","s":"GP+EI+TPLM","b":7,"v":0.08,"e":0.04},{"p":"SB","s":"GP+EI+TPLM","b":8,"v":0.02,"e":0.04},{"p":"SB","s":"GP+EI+TPLM","b":9,"v":-0.05,"e":0.04},{"p":"SB","s":"GP+EI+TPLM","b":10,"v":-0.17,"e":0.04},
{"p":"SB","s":"GP+PI+TPLM","b":1,"v":1.4,"e":0.06},{"p":"SB","s":"GP+PI+TPLM","b":2,"v":0.64,"e":0.05},{"p":"SB","s":"GP+PI+TPLM","b":3,"v":0.46,"e":0.04},{"p":"SB","s":"GP+PI+TPLM","b":4,"v":0.33,"e":0.04},{"p":"SB","s":"GP+PI+TPLM","b":5,"v":0.28,"e":0.04},{"p":"SB","s":"GP+PI+TPLM","b":6,"v":0.22,"e":0.04},{"p":"SB","s":"GP+PI+TPLM","b":7,"v":0.12,"e":0.04},{"p":"SB","s":"GP+PI+TPLM","b":8,"v":0.04,"e":0.04},{"p":"SB","s":"GP+PI+TPLM","b":9,"v":-0.08,"e":0.04},{"p":"SB","s":"GP+PI+TPLM","b":10,"v":-0.16,"e":0.04},
{"p":"SB","s":"GP+UCB+TPLM","b":1,"v":2.47,"e":0.04},{"p":"SB","s":"GP+UCB+TPLM","b":2,"v":1.34,"e":0.04},{"p":"SB","s":"GP+UCB+TPLM","b":3,"v":1.07,"e":0.03},{"p":"SB","s":"GP+UCB+TPLM","b":4,"v":0.9,"e":0.03},{"p":"SB","s":"GP+UCB+TPLM","b":5,"v":0.81,"e":0.025},{"p":"SB","s":"GP+UCB+TPLM","b":6,"v":0.71,"e":0.025},{"p":"SB","s":"GP+UCB+TPLM","b":7,"v":0.64,"e":0.02},{"p":"SB","s":"GP+UCB+TPLM","b":8,"v":0.56,"e":0.02},{"p":"SB","s":"GP+UCB+TPLM","b":9,"v":0.51,"e":0.02},{"p":"SB","s":"GP+UCB+TPLM","b":10,"v":0.5,"e":0.02},
{"p":"SB","s":"GP+EI","b":1,"v":0.76,"e":0.1},{"p":"SB","s":"GP+EI","b":2,"v":0.31,"e":0.05},{"p":"SB","s":"GP+EI","b":3,"v":0.17,"e":0.04},{"p":"SB","s":"GP+EI","b":4,"v":0.11,"e":0.04},{"p":"SB","s":"GP+EI","b":5,"v":0.01,"e":0.04},{"p":"SB","s":"GP+EI","b":6,"v":-0.01,"e":0.04},{"p":"SB","s":"GP+EI","b":7,"v":-0.01,"e":0.04},{"p":"SB","s":"GP+EI","b":8,"v":-0.05,"e":0.04},{"p":"SB","s":"GP+EI","b":9,"v":-0.11,"e":0.04},{"p":"SB","s":"GP+EI","b":10,"v":-0.13,"e":0.04},
{"p":"SB","s":"GP+PI","b":1,"v":0.59,"e":0.08},{"p":"SB","s":"GP+PI","b":2,"v":0.23,"e":0.05},{"p":"SB","s":"GP+PI","b":3,"v":0.15,"e":0.04},{"p":"SB","s":"GP+PI","b":4,"v":0.08,"e":0.04},{"p":"SB","s":"GP+PI","b":5,"v":0.01,"e":0.04},{"p":"SB","s":"GP+PI","b":6,"v":0.0,"e":0.04},{"p":"SB","s":"GP+PI","b":7,"v":-0.04,"e":0.04},{"p":"SB","s":"GP+PI","b":8,"v":-0.08,"e":0.04},{"p":"SB","s":"GP+PI","b":9,"v":-0.11,"e":0.04},{"p":"SB","s":"GP+PI","b":10,"v":-0.13,"e":0.04},
{"p":"SB","s":"GP+UCB","b":1,"v":0.99,"e":0.12},{"p":"SB","s":"GP+UCB","b":2,"v":0.43,"e":0.05},{"p":"SB","s":"GP+UCB","b":3,"v":0.3,"e":0.04},{"p":"SB","s":"GP+UCB","b":4,"v":0.15,"e":0.04},{"p":"SB","s":"GP+UCB","b":5,"v":0.08,"e":0.04},{"p":"SB","s":"GP+UCB","b":6,"v":0.05,"e":0.04},{"p":"SB","s":"GP+UCB","b":7,"v":0.04,"e":0.04},{"p":"SB","s":"GP+UCB","b":8,"v":0.03,"e":0.04},{"p":"SB","s":"GP+UCB","b":9,"v":0.02,"e":0.04},{"p":"SB","s":"GP+UCB","b":10,"v":-0.04,"e":0.04}
],
"cap":[
{"ln":1,"k":"b","t":"Fig. 5"},
{"ln":1,"k":"a","t":"Evolution and structure-based regularization biases variant selections towards those that score favorably under multiple criteria. Shown are"},
{"ln":2,"k":"n","t":"the regularization scores for variants selected for GB1 (Left), BRCA1 (Middle), and Spike (Right) under each selection criterion. As expected, variants"},
{"ln":3,"k":"n","t":"selected by TPLM-regularized methods have higher log-odds under the TPLM than those selected from non-TPLM regularized methods (Top)."},
{"ln":4,"k":"n","t":"Similarly, variants selected by FoldX regularized methods have lower ΔΔG values than those selected by non-FoldX methods (Bottom). The figures"},
{"ln":5,"k":"i","t":"also"},
{"ln":5,"k":"c","t":"show that TPLM-regularized methods tend to improve FoldX scores, and that FoldX-regularized methods tend to improve log-odds, indicating"},
{"ln":6,"k":"n","t":"that there is some correlation between log-odds and thermodynamic stability"}
]
},
"vconcat":[
{"vconcat":[
{"hconcat":[
{"width":357,"height":266,"data":{"name":"pts"},"transform":[{"filter":"datum.p==='GT'"}],
 "title":{"text":"GB1"},
 "encoding":{
  "x":{"field":"b","type":"quantitative","scale":{"domain":[0.55,10.45],"nice":false,"zero":false},"axis":{"values":[1,2,3,4,5,6,7,8,9,10],"title":"Batch number"}},
  "y":{"field":"v","type":"quantitative","scale":{"domain":[11,17],"nice":false,"zero":false},"axis":{"values":[11,12,13,14,15,16,17],"title":"Mean TPLM Log-odds","titlePadding":8}},
  "color":{"field":"s","type":"nominal","scale":{"domain":["GP+EI+FoldX","GP+PI+FoldX","GP+UCB+FoldX","GP+EI+TPLM","GP+PI+TPLM","GP+UCB+TPLM","GP+EI","GP+PI","GP+UCB"],"range":["#8c564b","#8c564b","#8c564b","#7f7f7f","#7f7f7f","#7f7f7f","#1f77b4","#1f77b4","#1f77b4"]},
   "legend":{"title":null,"orient":"top-left","offset":6,"padding":5,"rowPadding":0.8,"labelFont":"Liberation Sans","labelFontSize":12.3,"labelColor":"#000","symbolType":"stroke","symbolSize":289,"symbolStrokeWidth":1.5,"fillColor":"rgba(255,255,255,0.8)","strokeColor":"#cccccc","cornerRadius":3,"labelOffset":12}}
 },
 "layer":[
  {"mark":{"type":"errorbar","ticks":true,"size":10,"thickness":1},"encoding":{"yError":{"field":"e"}}},
  {"mark":{"type":"line","strokeWidth":1.5},"encoding":{"strokeDash":{"field":"s","type":"nominal","scale":{"domain":["GP+EI+FoldX","GP+PI+FoldX","GP+UCB+FoldX","GP+EI+TPLM","GP+PI+TPLM","GP+UCB+TPLM","GP+EI","GP+PI","GP+UCB"],"range":[[2,3],[1,0],[6,3],[2,3],[1,0],[6,3],[2,3],[1,0],[6,3]]},
   "legend":{"title":null,"orient":"top-left","offset":6,"padding":5,"rowPadding":0.8,"labelFont":"Liberation Sans","labelFontSize":12.3,"labelColor":"#000","symbolType":"stroke","symbolSize":289,"symbolStrokeWidth":1.5,"fillColor":"rgba(255,255,255,0.8)","strokeColor":"#cccccc","cornerRadius":3,"labelOffset":12}}}},
  {"mark":{"type":"point","filled":true,"size":12,"opacity":1}}
 ]},
{"width":357,"height":266,"data":{"name":"pts"},"transform":[{"filter":"datum.p==='BT'"}],
 "title":{"text":"BRCA1"},
 "encoding":{
  "x":{"field":"b","type":"quantitative","scale":{"domain":[0.55,10.45],"nice":false,"zero":false},"axis":{"values":[1,2,3,4,5,6,7,8,9,10],"title":"Batch number"}},
  "y":{"field":"v","type":"quantitative","scale":{"domain":[2.085,7.84],"nice":false,"zero":false},"axis":{"values":[3,4,5,6,7],"title":"Mean TPLM Log-odds","titlePadding":12}},
  "color":{"field":"s","type":"nominal","scale":{"domain":["GP+EI+FoldX","GP+PI+FoldX","GP+UCB+FoldX","GP+EI+TPLM","GP+PI+TPLM","GP+UCB+TPLM","GP+EI","GP+PI","GP+UCB"],"range":["#8c564b","#8c564b","#8c564b","#7f7f7f","#7f7f7f","#7f7f7f","#1f77b4","#1f77b4","#1f77b4"]},"legend":null}
 },
 "layer":[
  {"mark":{"type":"errorbar","ticks":true,"size":10,"thickness":1},"encoding":{"yError":{"field":"e"}}},
  {"mark":{"type":"line","strokeWidth":1.5},"encoding":{"strokeDash":{"field":"s","type":"nominal","scale":{"domain":["GP+EI+FoldX","GP+PI+FoldX","GP+UCB+FoldX","GP+EI+TPLM","GP+PI+TPLM","GP+UCB+TPLM","GP+EI","GP+PI","GP+UCB"],"range":[[2,3],[1,0],[6,3],[2,3],[1,0],[6,3],[2,3],[1,0],[6,3]]},"legend":null}}},
  {"mark":{"type":"point","filled":true,"size":12,"opacity":1}}
 ]},
{"width":357,"height":266,"data":{"name":"pts"},"transform":[{"filter":"datum.p==='ST'"}],
 "title":{"text":"Spike"},
 "encoding":{
  "x":{"field":"b","type":"quantitative","scale":{"domain":[0.55,10.45],"nice":false,"zero":false},"axis":{"values":[1,2,3,4,5,6,7,8,9,10],"title":"Batch number"}},
  "y":{"field":"v","type":"quantitative","scale":{"domain":[2.385,4.432],"nice":false,"zero":false},"axis":{"values":[2.5,2.75,3.0,3.25,3.5,3.75,4.0,4.25],"format":".2f","title":"Mean TPLM Log-odds","titlePadding":0}},
  "color":{"field":"s","type":"nominal","scale":{"domain":["GP+EI+FoldX","GP+PI+FoldX","GP+UCB+FoldX","GP+EI+TPLM","GP+PI+TPLM","GP+UCB+TPLM","GP+EI","GP+PI","GP+UCB"],"range":["#8c564b","#8c564b","#8c564b","#7f7f7f","#7f7f7f","#7f7f7f","#1f77b4","#1f77b4","#1f77b4"]},"legend":null}
 },
 "layer":[
  {"mark":{"type":"errorbar","ticks":true,"size":10,"thickness":1},"encoding":{"yError":{"field":"e"}}},
  {"mark":{"type":"line","strokeWidth":1.5},"encoding":{"strokeDash":{"field":"s","type":"nominal","scale":{"domain":["GP+EI+FoldX","GP+PI+FoldX","GP+UCB+FoldX","GP+EI+TPLM","GP+PI+TPLM","GP+UCB+TPLM","GP+EI","GP+PI","GP+UCB"],"range":[[2,3],[1,0],[6,3],[2,3],[1,0],[6,3],[2,3],[1,0],[6,3]]},"legend":null}}},
  {"mark":{"type":"point","filled":true,"size":12,"opacity":1}}
 ]}
],"spacing":24,"resolve":{"scale":{"color":"independent","strokeDash":"independent"},"legend":{"color":"independent","strokeDash":"independent"}}},
{"hconcat":[
{"width":357,"height":266,"data":{"name":"pts"},"transform":[{"filter":"datum.p==='GB'"}],
 "encoding":{
  "x":{"field":"b","type":"quantitative","scale":{"domain":[0.55,10.45],"nice":false,"zero":false},"axis":{"values":[1,2,3,4,5,6,7,8,9,10],"title":"Batch number"}},
  "y":{"field":"v","type":"quantitative","scale":{"domain":[1.69,7.88],"nice":false,"zero":false},"axis":{"values":[2,3,4,5,6,7],"title":"Mean FoldX ΔΔG","titlePadding":10}},
  "color":{"field":"s","type":"nominal","scale":{"domain":["GP+EI+FoldX","GP+PI+FoldX","GP+UCB+FoldX","GP+EI+TPLM","GP+PI+TPLM","GP+UCB+TPLM","GP+EI","GP+PI","GP+UCB"],"range":["#8c564b","#8c564b","#8c564b","#7f7f7f","#7f7f7f","#7f7f7f","#1f77b4","#1f77b4","#1f77b4"]},"legend":null}
 },
 "layer":[
  {"mark":{"type":"errorbar","ticks":true,"size":10,"thickness":1},"encoding":{"yError":{"field":"e"}}},
  {"mark":{"type":"line","strokeWidth":1.5},"encoding":{"strokeDash":{"field":"s","type":"nominal","scale":{"domain":["GP+EI+FoldX","GP+PI+FoldX","GP+UCB+FoldX","GP+EI+TPLM","GP+PI+TPLM","GP+UCB+TPLM","GP+EI","GP+PI","GP+UCB"],"range":[[2,3],[1,0],[6,3],[2,3],[1,0],[6,3],[2,3],[1,0],[6,3]]},"legend":null}}},
  {"mark":{"type":"point","filled":true,"size":12,"opacity":1}}
 ]},
{"width":357,"height":266,"data":{"name":"pts"},"transform":[{"filter":"datum.p==='BB'"}],
 "encoding":{
  "x":{"field":"b","type":"quantitative","scale":{"domain":[0.55,10.45],"nice":false,"zero":false},"axis":{"values":[1,2,3,4,5,6,7,8,9,10],"title":"Batch number"}},
  "y":{"field":"v","type":"quantitative","scale":{"domain":[-1.88,1.46],"nice":false,"zero":false},"axis":{"values":[-1.5,-1.0,-0.5,0.0,0.5,1.0],"labelExpr":"replace(format(datum.value,'.1f'),'-','−')","title":"Mean FoldX ΔΔG","titlePadding":2}},
  "color":{"field":"s","type":"nominal","scale":{"domain":["GP+EI+FoldX","GP+PI+FoldX","GP+UCB+FoldX","GP+EI+TPLM","GP+PI+TPLM","GP+UCB+TPLM","GP+EI","GP+PI","GP+UCB"],"range":["#8c564b","#8c564b","#8c564b","#7f7f7f","#7f7f7f","#7f7f7f","#1f77b4","#1f77b4","#1f77b4"]},"legend":null}
 },
 "layer":[
  {"mark":{"type":"errorbar","ticks":true,"size":10,"thickness":1},"encoding":{"yError":{"field":"e"}}},
  {"mark":{"type":"line","strokeWidth":1.5},"encoding":{"strokeDash":{"field":"s","type":"nominal","scale":{"domain":["GP+EI+FoldX","GP+PI+FoldX","GP+UCB+FoldX","GP+EI+TPLM","GP+PI+TPLM","GP+UCB+TPLM","GP+EI","GP+PI","GP+UCB"],"range":[[2,3],[1,0],[6,3],[2,3],[1,0],[6,3],[2,3],[1,0],[6,3]]},"legend":null}}},
  {"mark":{"type":"point","filled":true,"size":12,"opacity":1}}
 ]},
{"width":357,"height":266,"data":{"name":"pts"},"transform":[{"filter":"datum.p==='SB'"}],
 "encoding":{
  "x":{"field":"b","type":"quantitative","scale":{"domain":[0.55,10.45],"nice":false,"zero":false},"axis":{"values":[1,2,3,4,5,6,7,8,9,10],"title":"Batch number"}},
  "y":{"field":"v","type":"quantitative","scale":{"domain":[-1.543,2.713],"nice":false,"zero":false},"axis":{"values":[-1.5,-1.0,-0.5,0.0,0.5,1.0,1.5,2.0,2.5],"labelExpr":"replace(format(datum.value,'.1f'),'-','−')","title":"Mean FoldX ΔΔG","titlePadding":-2}},
  "color":{"field":"s","type":"nominal","scale":{"domain":["GP+EI+FoldX","GP+PI+FoldX","GP+UCB+FoldX","GP+EI+TPLM","GP+PI+TPLM","GP+UCB+TPLM","GP+EI","GP+PI","GP+UCB"],"range":["#8c564b","#8c564b","#8c564b","#7f7f7f","#7f7f7f","#7f7f7f","#1f77b4","#1f77b4","#1f77b4"]},"legend":null}
 },
 "layer":[
  {"mark":{"type":"errorbar","ticks":true,"size":10,"thickness":1},"encoding":{"yError":{"field":"e"}}},
  {"mark":{"type":"line","strokeWidth":1.5},"encoding":{"strokeDash":{"field":"s","type":"nominal","scale":{"domain":["GP+EI+FoldX","GP+PI+FoldX","GP+UCB+FoldX","GP+EI+TPLM","GP+PI+TPLM","GP+UCB+TPLM","GP+EI","GP+PI","GP+UCB"],"range":[[2,3],[1,0],[6,3],[2,3],[1,0],[6,3],[2,3],[1,0],[6,3]]},"legend":null}}},
  {"mark":{"type":"point","filled":true,"size":12,"opacity":1}}
 ]}
],"spacing":17,"resolve":{"scale":{"color":"independent","strokeDash":"independent"},"legend":{"color":"independent","strokeDash":"independent"}}}
],"spacing":24,"resolve":{"scale":{"color":"independent","strokeDash":"independent"},"legend":{"color":"independent","strokeDash":"independent"}}},
{"width":1190,"height":158,"data":{"name":"cap"},"view":{"stroke":null},
 "encoding":{
  "y":{"field":"ln","type":"ordinal","axis":null,"scale":{"paddingInner":0,"paddingOuter":0}},
  "x":{"datum":0,"type":"quantitative","scale":{"domain":[0,1]},"axis":null},
  "text":{"field":"t"}
 },
 "layer":[
  {"transform":[{"filter":"datum.k==='b'"}],"mark":{"type":"text","align":"left","baseline":"middle","font":"Open Sans","fontSize":18,"fontWeight":"bold","color":"#231f20","dx":-43}},
  {"transform":[{"filter":"datum.k==='a'"}],"mark":{"type":"text","align":"left","baseline":"middle","font":"Open Sans","fontSize":18.2,"color":"#231f20","dx":19}},
  {"transform":[{"filter":"datum.k==='n'"}],"mark":{"type":"text","align":"left","baseline":"middle","font":"Open Sans","fontSize":18.2,"color":"#231f20","dx":-43}},
  {"transform":[{"filter":"datum.k==='i'"}],"mark":{"type":"text","align":"left","baseline":"middle","font":"Open Sans","fontSize":18.2,"fontStyle":"italic","color":"#231f20","dx":-43}},
  {"transform":[{"filter":"datum.k==='c'"}],"mark":{"type":"text","align":"left","baseline":"middle","font":"Open Sans","fontSize":18.2,"color":"#231f20","dx":0}}
 ]}
],"spacing":2,
"resolve":{"scale":{"color":"independent","strokeDash":"independent"},"legend":{"color":"independent","strokeDash":"independent"}}
}
